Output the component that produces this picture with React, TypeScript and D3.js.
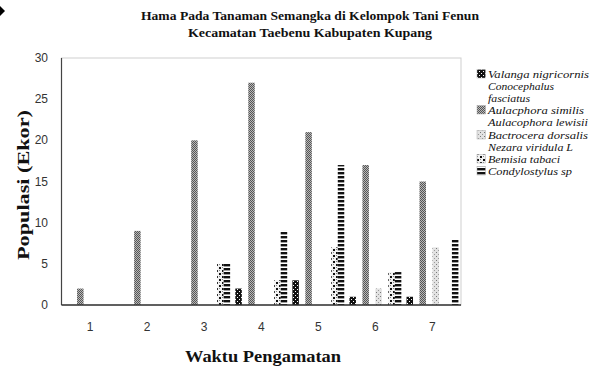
import React from "react";
import * as d3 from "d3";

const categories = ["1", "2", "3", "4", "5", "6", "7"];
const seriesNames = [
  "Valanga nigricornis",
  "Conocephalus fasciatus",
  "Aulacphora similis",
  "Aulacophora lewisii",
  "Bactrocera dorsalis",
  "Nezara viridula L",
  "Bemisia tabaci",
  "Condylostylus sp",
];
const valanga = [0, 0, 0, 2, 3, 1, 1];
const conocephalus = [0, 0, 0, 0, 0, 0, 0];
const aulacphora = [2, 9, 20, 27, 21, 17, 15];
const aulacophoraLewisii = [0, 0, 0, 0, 0, 0, 0];
const bactrocera = [0, 0, 0, 0, 0, 2, 7];
const nezara = [0, 0, 0, 0, 0, 0, 0];
const bemisia = [0, 0, 5, 3, 7, 4, 0];
const condylostylus = [0, 0, 5, 9, 17, 4, 8];
const yTicks = [0, 5, 10, 15, 20, 25, 30];

const seriesValues = [valanga, conocephalus, aulacphora, aulacophoraLewisii, bactrocera, nezara, bemisia, condylostylus];
const patternIds = ["pValanga", "pNone", "pAul", "pNone", "pBac", "pNone", "pBem", "pCon"];

const legendLines: { text: string[]; y: number; swatch: boolean }[] = [
  { text: ["Valanga nigricornis"], y: 78, swatch: true },
  { text: ["Conocephalus", "fasciatus"], y: 90, swatch: false },
  { text: ["Aulacphora similis"], y: 114, swatch: true },
  { text: ["Aulacophora lewisii"], y: 126, swatch: false },
  { text: ["Bactrocera dorsalis"], y: 139, swatch: true },
  { text: ["Nezara viridula L"], y: 151, swatch: false },
  { text: ["Bemisia tabaci"], y: 163, swatch: true },
  { text: ["Condylostylus sp"], y: 175, swatch: true },
];

export default function App() {
  const W = 595, H = 367;
  const left = 61.5, right = 461, top = 58, bottom = 305;
  const x0 = d3.scaleBand<string>().domain(categories).range([left, right]).paddingInner(0).paddingOuter(0);
  const x1 = d3.scaleBand<number>().domain(d3.range(seriesNames.length)).range([0, x0.bandwidth()]).paddingInner(0).paddingOuter(0.4);
  const y = d3.scaleLinear().domain([0, 30]).range([bottom, top]);

  const bars: JSX.Element[] = [];
  seriesValues.forEach((vals, si) => {
    vals.forEach((v, ci) => {
      if (v <= 0) return;
      const bx = (x0(categories[ci]) as number) + (x1(si) as number);
      bars.push(
        <rect key={`${si}-${ci}`} x={bx} y={y(v)} width={x1.bandwidth()} height={bottom - y(v)} fill={`url(#${patternIds[si]})`} />
      );
    });
  });

  const legendIdx = [0, 1, 2, 3, 4, 5, 6, 7];
  const legendWidths = [101, 66, 96, 100, 100, 85, 72, 84];

  return (
    <svg width={W} height={H} style={{ position: "absolute", left: 0, top: 0, background: "#fff" }}>
      <defs>
        <pattern id="pValanga" width="4" height="4" patternUnits="userSpaceOnUse">
          <rect width="4" height="4" fill="#111" />
          <rect x="1" y="1" width="1" height="1" fill="#fff" />
          <rect x="3" y="3" width="1" height="1" fill="#fff" />
        </pattern>
        <pattern id="pAul" width="2" height="2" patternUnits="userSpaceOnUse">
          <rect width="2" height="2" fill="#b8b8b8" />
          <rect x="0" y="0" width="1" height="1" fill="#555" />
          <rect x="1" y="1" width="1" height="1" fill="#555" />
        </pattern>
        <pattern id="pBac" width="4" height="4" patternUnits="userSpaceOnUse">
          <rect width="4" height="4" fill="#e2e2e2" />
          <rect x="0" y="0" width="1" height="1" fill="#777" />
          <rect x="2" y="2" width="1" height="1" fill="#999" />
        </pattern>
        <pattern id="pBem" width="6" height="6" patternUnits="userSpaceOnUse">
          <rect width="6" height="6" fill="#f2f2f2" />
          <rect x="0" y="0" width="2" height="2" fill="#111" />
          <rect x="3" y="3" width="2" height="2" fill="#111" />
          <rect x="3" y="0" width="1" height="1" fill="#888" />
          <rect x="0" y="3" width="1" height="1" fill="#888" />
        </pattern>
        <pattern id="pCon" width="4" height="4" patternUnits="userSpaceOnUse">
          <rect width="4" height="4" fill="#fff" />
          <rect x="0" y="0" width="4" height="2.4" fill="#111" />
        </pattern>
        <pattern id="pNone" width="4" height="4" patternUnits="userSpaceOnUse">
          <rect width="4" height="4" fill="#fff" />
        </pattern>
      </defs>

      <path d="M0,6 L5,11 L0,16 Z" fill="#000" />

      <g fontFamily="'Liberation Serif', serif" fontWeight="bold" fill="#111" textAnchor="middle">
        <text x={310} y={20} fontSize={13.5} textLength={338} lengthAdjust="spacingAndGlyphs">Hama Pada Tanaman Semangka di Kelompok Tani Fenun</text>
        <text x={310} y={37} fontSize={13.5} textLength={244} lengthAdjust="spacingAndGlyphs">Kecamatan Taebenu Kabupaten Kupang</text>
      </g>

      <rect x={left} y={top} width={right - left} height={bottom - top} fill="none" stroke="#cfcfcf" strokeWidth={1} />
      {bars}
      <line x1={left} x2={left} y1={top} y2={bottom} stroke="#444" strokeWidth={1.2} />
      <line x1={left} x2={right} y1={bottom} y2={bottom} stroke="#333" strokeWidth={1.4} />

      <g fontFamily="'Liberation Sans', Arial, sans-serif" fontSize={12} fill="#333">
        {yTicks.map((t) => (
          <text key={t} x={48} y={y(t) + 4} textAnchor="end">{t}</text>
        ))}
        {categories.map((c) => (
          <text key={c} x={(x0(c) as number) + x0.bandwidth() / 2} y={331} textAnchor="middle">{c}</text>
        ))}
      </g>

      <g fontFamily="'Liberation Serif', serif" fontWeight="bold" fill="#111">
        <text x={263} y={362} fontSize={17} textAnchor="middle" textLength={156} lengthAdjust="spacingAndGlyphs">Waktu Pengamatan</text>
        <text transform="translate(29,185) rotate(-90)" fontSize={17} textAnchor="middle" textLength={150} lengthAdjust="spacingAndGlyphs">Populasi (Ekor)</text>
      </g>

      <g fontFamily="'Liberation Serif', serif" fontStyle="italic" fontSize={11.2} fill="#111">
        {legendIdx.map((i) => {
          const L = legendLines[i];
          return (
            <g key={i}>
              {L.swatch && (
                <rect x={477} y={L.y - 8.5} width={8.5} height={8.5} fill={`url(#${patternIds[i]})`} stroke="#aaa" strokeWidth={0.5} />
              )}
              {L.text.map((t, k) => (
                <text key={k} x={488} y={L.y + k * 12} textLength={k === 0 ? legendWidths[i] : 42} lengthAdjust="spacingAndGlyphs">{t}</text>
              ))}
            </g>
          );
        })}
      </g>
    </svg>
  );
}
